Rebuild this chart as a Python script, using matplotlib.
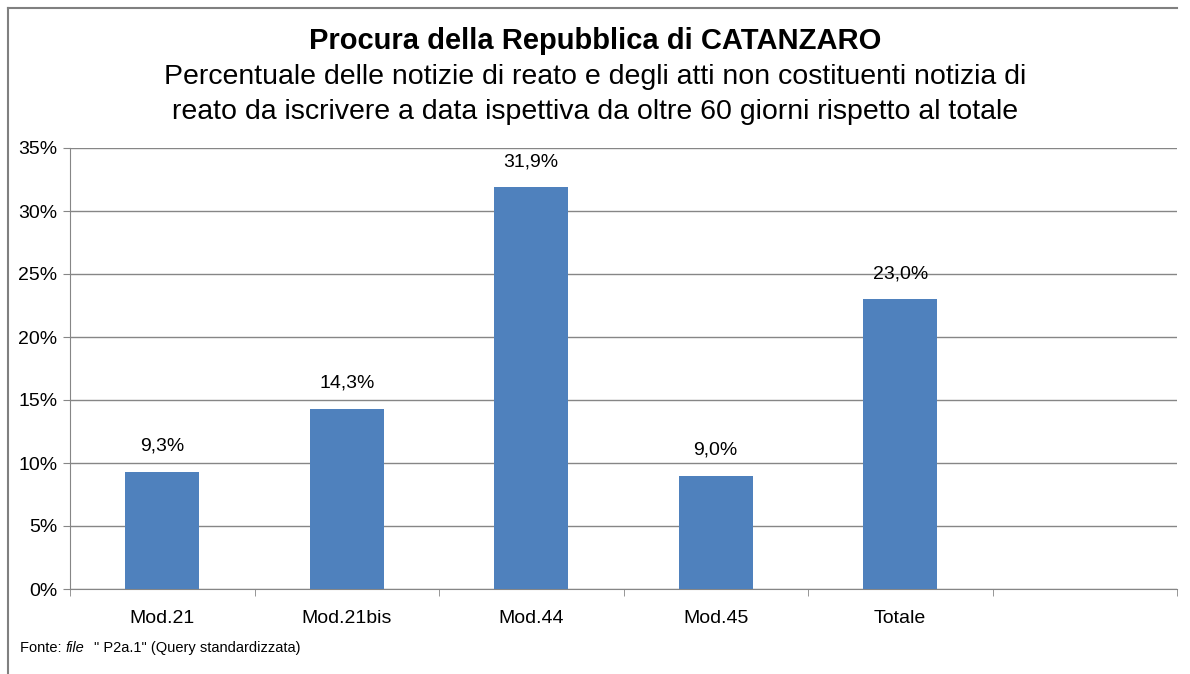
import numpy as np
import matplotlib.pyplot as plt
from matplotlib.lines import Line2D

plt.rcParams['font.family'] = ['Liberation Sans', 'DejaVu Sans']

categories = ["Mod.21", "Mod.21bis", "Mod.44", "Mod.45", "Totale"]
values = [9.3, 14.3, 31.9, 9.0, 23.0]
labels = ["9,3%", "14,3%", "31,9%", "9,0%", "23,0%"]
n_slots = 6

fig = plt.figure(figsize=(11.9, 6.74), dpi=100)
ax = fig.add_axes([70/1190, 1-589/674, (1177-70)/1190, (589-148)/674])

x = np.arange(len(categories))
ax.bar(x, values, width=0.4, color="#4F81BD", zorder=3)
for xi, v, lab in zip(x, values, labels):
    ax.text(xi, v + 1.35, lab, ha="center", va="bottom", fontsize=14)

ax.set_xlim(-0.5, n_slots - 0.5)
ax.set_ylim(0, 35)
ax.set_yticks(np.arange(0, 36, 5))
ax.set_yticklabels([f"{t}%" for t in range(0, 36, 5)], fontsize=14)
ax.set_xticks(x)
ax.set_xticklabels(categories, fontsize=14)
ax.set_xticks(np.arange(n_slots + 1) - 0.5, minor=True)
ax.tick_params(axis="x", which="major", length=0, pad=15)
ax.tick_params(axis="x", which="minor", length=5, color="#868686")
ax.tick_params(axis="y", length=5, color="#868686", pad=4)
ax.grid(axis="y", color="#868686", linewidth=1, zorder=0)
for s in ["top", "right"]:
    ax.spines[s].set_visible(False)
ax.spines["left"].set_color("#868686")
ax.spines["bottom"].set_color("#868686")

fig.text(0.5, 1-41/674, "Procura della Repubblica di CATANZARO", ha="center", va="center",
         fontsize=21, fontweight="bold")
fig.text(0.5, 1-77/674,
         "Percentuale delle notizie di reato e degli atti non costituenti notizia di",
         ha="center", va="center", fontsize=20.5)
fig.text(0.5, 1-112/674,
         "reato da iscrivere a data ispettiva da oltre 60 giorni rispetto al totale",
         ha="center", va="center", fontsize=20.5)

fig.text(20/1190, 1-648/674, "Fonte: ", fontsize=10.5, va="center")
fig.text(66/1190, 1-648/674, "file", fontsize=10.5, va="center", style="italic")
fig.text(94/1190, 1-648/674, "\" P2a.1\" (Query standardizzata)", fontsize=10.5, va="center")

# chart border
fig.add_artist(Line2D([8/1190, 8/1190], [0, 1-8/674], color="#808080", lw=1.5))
fig.add_artist(Line2D([8/1190, 1177/1190], [1-8/674, 1-8/674], color="#808080", lw=1.5))

fig.savefig("out.png", dpi=100)
